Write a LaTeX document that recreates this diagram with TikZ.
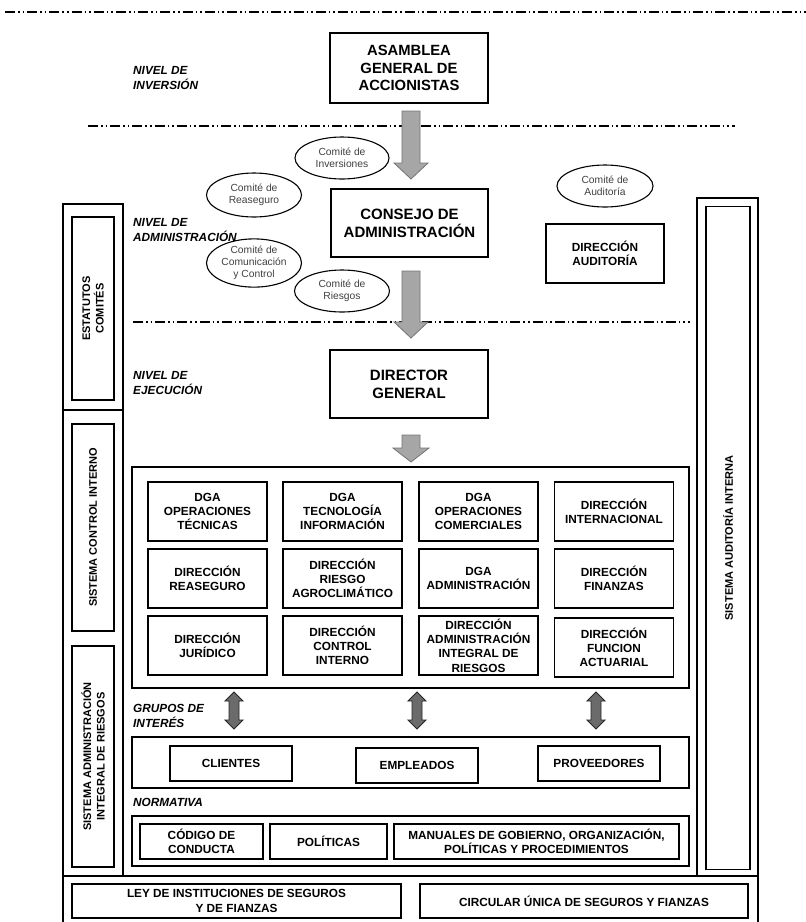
\documentclass[tikz,border=0pt]{standalone}
\usepackage{fontspec}
\setmainfont{Liberation Sans}
\usetikzlibrary{shapes.geometric,calc}
\newcommand{\fsz}[2]{\fontsize{#1}{#2}\selectfont}
\begin{document}
\begin{tikzpicture}[x=1pt,y=-1pt,
  thickbox/.style={draw, line width=2.6pt, inner sep=0pt, align=center, minimum width=158pt, font=\bfseries\fsz{14.8}{17.5}},
  gbox/.style={draw, line width=1.3pt, inner sep=0pt, minimum width=119pt, minimum height=59pt, align=center, font=\bfseries\fsz{11.8}{14.3}},
  sbox/.style={draw, line width=1.2pt, inner sep=0pt, minimum height=35pt, align=center, font=\bfseries\fsz{11.8}{14.3}},
  comm/.style={draw, ellipse, line width=1.1pt, inner sep=0pt, minimum width=95pt, minimum height=42pt, align=center, text=black!75, font=\fsz{10.3}{12.2}},
  lvl/.style={anchor=west, align=left, inner sep=0pt, font=\bfseries\itshape\fsz{11.8}{15}},
  panel/.style={draw, line width=1.1pt, inner sep=0pt, minimum width=557pt},
  side/.style={draw, line width=1.2pt, inner sep=0pt, rotate=90, align=center, font=\bfseries\fsz{11}{13.5}},
  frame/.style={line width=1.1pt},
  ddline/.style={line width=1.4pt, dash pattern=on 10pt off 3pt on 1.6pt off 3pt on 1.6pt off 3pt},
  bigarrow/.style={fill=black!35, draw=black!55, line width=0.8pt},
  dblarrow/.style={fill=black!58, draw=black!85, line width=0.9pt}
]
\useasboundingbox (0,0) rectangle (806,922);

% dash-dot level separators
\draw[ddline] (5,12) -- (806,12);
\draw[ddline] (88,126) -- (735,126);
\draw[ddline] (133,322) -- (690,322);

% level labels
\node[lvl] (lv1) at (133,77.5) {NIVEL DE\\INVERSIÓN};
\node[lvl] (lv2) at (133,229.5) {NIVEL DE\\ADMINISTRACIÓN};
\node[lvl] (lv3) at (133,383) {NIVEL DE\\EJECUCIÓN};
\node[lvl] (lv4) at (133,716) {GRUPOS DE\\INTERÉS};
\node[lvl] (lv5) at (133,802) {NORMATIVA};

% main boxes
\node[thickbox, minimum height=70pt] (asam) at (409,68) {ASAMBLEA\\GENERAL DE\\ACCIONISTAS};
\node[thickbox, minimum width=157pt, minimum height=68pt, font=\bfseries\fsz{15}{18}] (cons) at (409.5,223) {CONSEJO DE\\ADMINISTRACIÓN};
\node[thickbox, minimum height=68pt, font=\bfseries\fsz{15}{18}] (dirg) at (409,384) {DIRECTOR\\GENERAL};
\node[gbox, minimum width=118pt] (daud) at (605,253.5) {DIRECCIÓN\\AUDITORÍA};

% committees
\node[comm, minimum width=94pt] (cinv) at (342,158) {Comité de\\Inversiones};
\node[comm, minimum height=44pt] (crea) at (254,195) {Comité de\\Reaseguro};
\node[comm] (ccom) at (254,263) {Comité de\\Comunicación\\y Control};
\node[comm] (crie) at (342,291) {Comité de\\Riesgos};
\node[comm, minimum width=96pt] (caud) at (605,186) {Comité de\\Auditoría};

% block arrows
\coordinate (a1s) at (411,111); \coordinate (a1e) at (411,179);
\draw[bigarrow] ($(a1s)+(-9,0)$) -- ($(a1e)+(-9,-16)$) -- ($(a1e)+(-17,-16)$) -- (a1e) -- ($(a1e)+(17,-16)$) -- ($(a1e)+(9,-16)$) -- ($(a1s)+(9,0)$) -- cycle;
\coordinate (a2s) at (411,271); \coordinate (a2e) at (411,338);
\draw[bigarrow] ($(a2s)+(-9,0)$) -- ($(a2e)+(-9,-16)$) -- ($(a2e)+(-17,-16)$) -- (a2e) -- ($(a2e)+(17,-16)$) -- ($(a2e)+(9,-16)$) -- ($(a2s)+(9,0)$) -- cycle;
\coordinate (a3s) at (411,435); \coordinate (a3e) at (411,462);
\draw[bigarrow] ($(a3s)+(-9,0)$) -- ($(a3e)+(-9,-14)$) -- ($(a3e)+(-18,-14)$) -- (a3e) -- ($(a3e)+(18,-14)$) -- ($(a3e)+(9,-14)$) -- ($(a3s)+(9,0)$) -- cycle;

% outer frame
\draw[frame] (63,204) rectangle (123,876);
\draw[frame] (63,410) -- (123,410);
\draw[frame] (697,198) rectangle (758,876);
\draw[frame] (63,876) -- (758,876);
\draw[frame] (63,876) -- (63,923);
\draw[frame] (758,876) -- (758,923);

% side boxes
\node[side, minimum width=183pt, minimum height=42pt, font=\bfseries\fsz{11}{13.5}] (est) at (93,308.5) {ESTATUTOS\\COMITÉS};
\node[side, minimum width=207pt, minimum height=42pt] (sci) at (93,527.5) {SISTEMA  CONTROL INTERNO};
\node[side, minimum width=221pt, minimum height=42pt] (sair) at (93,756.5) {SISTEMA ADMINISTRACIÓN\\INTEGRAL DE RIESGOS};
\node[side, minimum width=663pt, minimum height=44pt, font=\bfseries\fsz{11}{13}] (sai) at (728,538) {SISTEMA  AUDITORÍA  INTERNA};

% directions grid
\node[panel, minimum height=221pt] (gpan) at (410.5,577.5) {};
\node[gbox] (g11) at (207.5,511.5) {DGA\\OPERACIONES\\TÉCNICAS};
\node[gbox] (g12) at (342.5,511.5) {DGA\\TECNOLOGÍA\\INFORMACIÓN};
\node[gbox] (g13) at (478.5,511.5) {DGA\\OPERACIONES\\COMERCIALES};
\node[gbox] (g14) at (614,511.5) {DIRECCIÓN\\INTERNACIONAL};
\node[gbox] (g21) at (207.5,578.5) {DIRECCIÓN\\REASEGURO};
\node[gbox] (g22) at (342.5,578.5) {DIRECCIÓN\\RIESGO\\AGROCLIMÁTICO};
\node[gbox] (g23) at (478.5,578.5) {DGA\\ADMINISTRACIÓN};
\node[gbox] (g24) at (614,578.5) {DIRECCIÓN\\FINANZAS};
\node[gbox] (g31) at (207.5,645.5) {DIRECCIÓN\\JURÍDICO};
\node[gbox] (g32) at (342.5,645.5) {DIRECCIÓN\\CONTROL\\INTERNO};
\node[gbox] (g33) at (478.5,645.5) {DIRECCIÓN\\ADMINISTRACIÓN\\INTEGRAL DE\\RIESGOS};
\node[gbox] (g34) at (614,647.5) {DIRECCIÓN\\FUNCION\\ACTUARIAL};

% stakeholders
\node[panel, minimum height=51pt] (span) at (410.5,762.5) {};
\node[sbox, minimum width=122pt] (cli) at (231,763.5) {CLIENTES};
\node[sbox, minimum width=122pt] (emp) at (417,765.5) {EMPLEADOS};
\node[sbox, minimum width=122pt] (pro) at (599,763.5) {PROVEEDORES};

% double arrows between grid and stakeholders
\foreach \xx in {234,417,596}{
  \draw[dblarrow] (\xx,692) -- (\xx+9,701) -- (\xx+5,701) -- (\xx+5,720) -- (\xx+9,720) -- (\xx,729) -- (\xx-9,720) -- (\xx-5,720) -- (\xx-5,701) -- (\xx-9,701) -- cycle;
}

% normative
\node[panel, minimum height=50pt] (npan) at (410.5,841) {};
\node[sbox, minimum width=123pt] (cod) at (201.5,841.5) {CÓDIGO DE\\CONDUCTA};
\node[sbox, minimum width=117pt] (pol) at (328.5,841.5) {POLÍTICAS};
\node[sbox, minimum width=285pt] (man) at (536.5,841.5) {MANUALES  DE GOBIERNO, ORGANIZACIÓN,\\POLÍTICAS  Y PROCEDIMIENTOS};

% legal framework
\node[sbox, minimum width=329pt, minimum height=34pt] (ley) at (236.5,901) {LEY DE INSTITUCIONES  DE SEGUROS\\Y DE FIANZAS};
\node[sbox, minimum width=328pt, minimum height=34pt] (cir) at (584,901) {CIRCULAR ÚNICA  DE SEGUROS Y FIANZAS};
\end{tikzpicture}
\end{document}
